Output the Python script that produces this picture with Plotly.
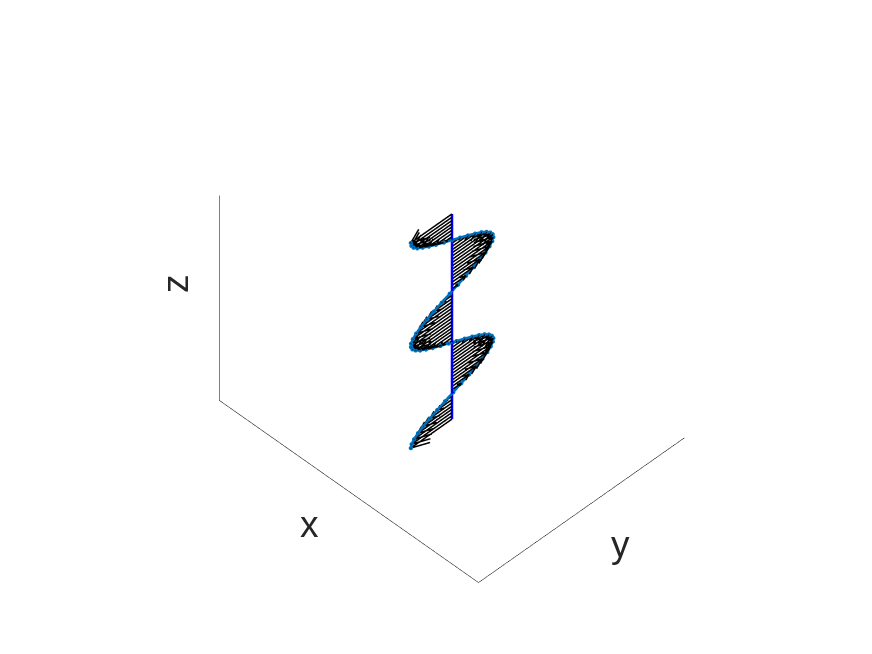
import plotly.graph_objects as go

wave_z = [0.0, 0.016, 0.032, 0.048, 0.063, 0.079, 0.095, 0.111, 0.127, 0.143, 0.159, 0.175, 0.19, 0.206, 0.222, 0.238,
          0.254, 0.27, 0.286, 0.302, 0.317, 0.333, 0.349, 0.365, 0.381, 0.397, 0.413, 0.429, 0.444, 0.46, 0.476, 0.492,
          0.508, 0.524, 0.54, 0.556, 0.571, 0.587, 0.603, 0.619, 0.635, 0.651, 0.667, 0.683, 0.698, 0.714, 0.73, 0.746,
          0.762, 0.778, 0.794, 0.81, 0.825, 0.841, 0.857, 0.873, 0.889, 0.905, 0.921, 0.937, 0.952, 0.968, 0.984, 1.0]
wave_y = [0.3, 0.304, 0.316, 0.335, 0.361, 0.392, 0.428, 0.466, 0.506, 0.545, 0.583, 0.618, 0.647, 0.671, 0.688, 0.698,
          0.7, 0.693, 0.679, 0.658, 0.631, 0.598, 0.561, 0.522, 0.483, 0.443, 0.406, 0.373, 0.345, 0.323, 0.308, 0.301,
          0.301, 0.31, 0.326, 0.349, 0.378, 0.412, 0.45, 0.489, 0.529, 0.568, 0.604, 0.636, 0.662, 0.682, 0.695, 0.7,
          0.697, 0.686, 0.668, 0.643, 0.612, 0.577, 0.539, 0.499, 0.46, 0.422, 0.387, 0.357, 0.331, 0.313, 0.303, 0.3]
axis_x = 0.5
axis_y = 0.5
HEAD_BACK = 0.33
HEAD_SIDE = 0.33

ax, ay, az = [], [], []
for z, y in zip(wave_z, wave_y):
    v = y - axis_y
    bx = HEAD_BACK * HEAD_SIDE * v
    by = y - HEAD_BACK * v
    ax += [axis_x, axis_x, None, axis_x - bx, axis_x, axis_x + bx, None]
    ay += [axis_y, y, None, by, y, by, None]
    az += [z, z, None, z, z, z, None]

fig = go.Figure()
fig.add_trace(go.Scatter3d(x=[0, 0, 1, 1], y=[0, 0, 0, 1], z=[1, 0, 0, 0], mode="lines",
                           line=dict(color="#000000", width=1), hoverinfo="skip"))
fig.add_trace(go.Scatter3d(x=[axis_x] * len(wave_z), y=wave_y, z=wave_z, mode="lines+markers",
                           line=dict(color="#0072BD", width=5),
                           marker=dict(color="#0072BD", size=2.5), hoverinfo="skip"))
fig.add_trace(go.Scatter3d(x=ax, y=ay, z=az, mode="lines",
                           line=dict(color="black", width=3), hoverinfo="skip"))
fig.add_trace(go.Scatter3d(x=[axis_x] * len(wave_z), y=[axis_y] * len(wave_z), z=wave_z, mode="lines",
                           line=dict(color="#0000FF", width=5), hoverinfo="skip"))

hidden = dict(visible=False, range=[0, 1], autorange=False)
fig.update_layout(
    width=872, height=654, showlegend=False, paper_bgcolor="white",
    margin=dict(l=0, r=0, t=0, b=0),
    scene=dict(
        domain=dict(x=[0.018, 1.0], y=[0.087, 0.969]),
        xaxis=hidden, yaxis=hidden, zaxis=hidden,
        aspectmode="manual", aspectratio=dict(x=1.27, y=1.01, z=1.0),
        camera=dict(eye=dict(x=1.073, y=-1.073, z=1.5), up=dict(x=0, y=0, z=1),
                    center=dict(x=0, y=0, z=0), projection=dict(type="orthographic")),
    ),
    annotations=[
        dict(text="x", x=301 / 872, y=1 - 516 / 654, xref="paper", yref="paper", showarrow=False,
             xanchor="center", yanchor="middle",
             font=dict(family="Liberation Sans", size=37, color="#262626")),
        dict(text="y", x=612 / 872, y=1 - 536 / 654, xref="paper", yref="paper", showarrow=False,
             xanchor="center", yanchor="middle",
             font=dict(family="Liberation Sans", size=37, color="#262626")),
        dict(text="z", x=167 / 872, y=1 - 276 / 654, xref="paper", yref="paper", showarrow=False, textangle=-90,
             xanchor="center", yanchor="middle",
             font=dict(family="Liberation Sans", size=37, color="#262626")),
    ],
)
fig.write_html("out.html", config=dict(displayModeBar=False))
